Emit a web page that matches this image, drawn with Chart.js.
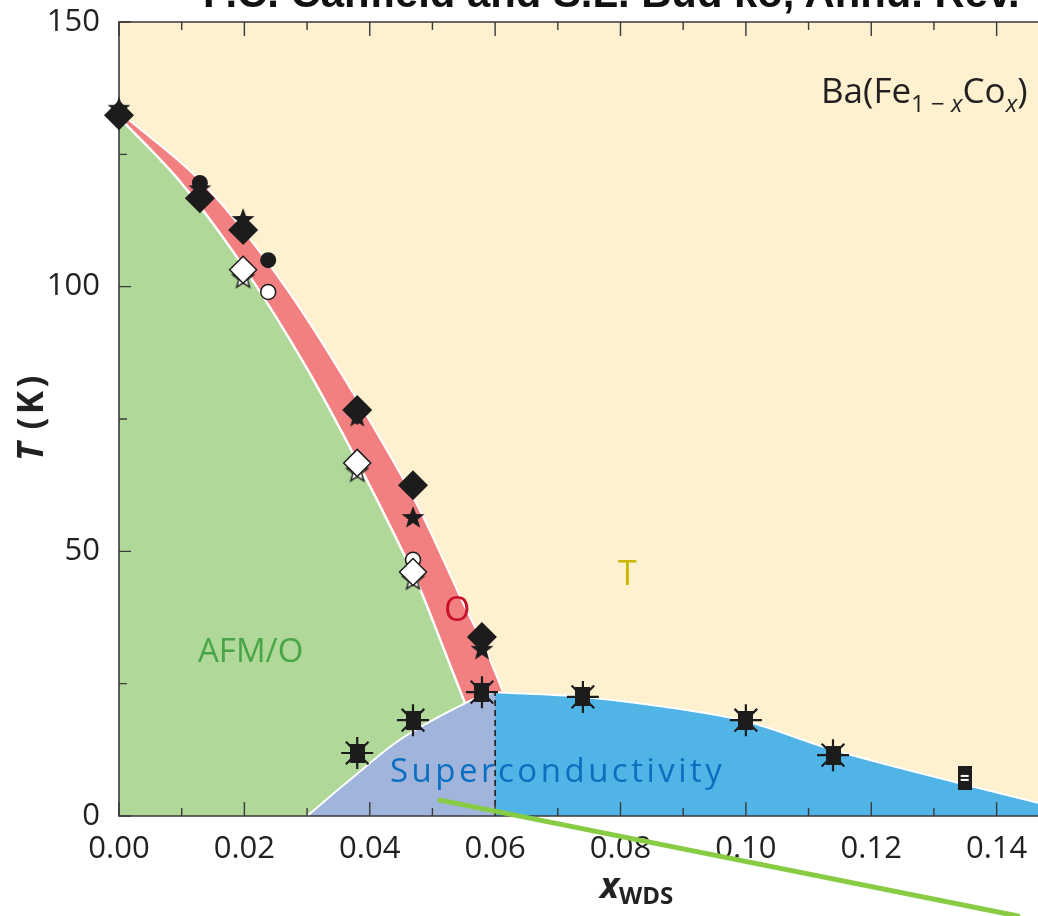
<!DOCTYPE html>
<html><head><meta charset="utf-8">
<script src="https://cdn.jsdelivr.net/npm/chart.js@4.4.1/dist/chart.umd.min.js"></script>
<style>
html,body{margin:0;padding:0;background:#fff;overflow:hidden;width:1038px;height:916px}
#wrap{position:relative;width:1038px;height:916px;overflow:hidden;background:#fff}
#c{position:absolute;left:0;top:0}
.lbl{position:absolute;white-space:nowrap;line-height:normal;font-family:"Open Sans",sans-serif}
.sb{position:relative;top:9px;font-size:24px}
</style></head><body>
<div id="wrap">
<canvas id="c" width="1038" height="916"></canvas>
<div class="lbl" id="ttl" style="font-family:'Liberation Sans',Arial,sans-serif;font-weight:700;font-size:41.8px;color:#111">P.C. Canfield and S.L. Bud’ko, Annu. Rev.</div>
<div class="lbl" id="formula" style="font-size:35px;color:#231f20">Ba(Fe<span class="sb">1 − <i>x</i></span>Co<span class="sb"><i>x</i></span>)</div>
<div class="lbl" id="lT" style="font-size:34px;color:#c9b800">T</div>
<div class="lbl" id="lO" style="font-size:34px;color:#c8102e">O</div>
<div class="lbl" id="lAFM" style="font-size:33px;color:#49a648">AFM/O</div>
<div class="lbl" id="lSC" style="font-size:33px;color:#0b6fc0;letter-spacing:3.5px">Superconductivity</div>
<div class="lbl" id="xt" style="font-weight:700;color:#222"><i style="font-size:36px">x</i><span style="font-size:24px;position:relative;top:6px">WDS</span></div>
<div class="lbl" id="yt" style="font-weight:700;font-size:35px;letter-spacing:3.5px;color:#222;transform-origin:0 0;transform:rotate(-90deg)"><i>T</i>&#8201;(K)</div>
</div>
<script>
// ---------- tick labels ----------
const xTickValues = [0, 0.02, 0.04, 0.06, 0.08, 0.10, 0.12, 0.14];
const xTickLabels = ['0.00', '0.02', '0.04', '0.06', '0.08', '0.10', '0.12', '0.14'];
const xMinorTicks = [0.01, 0.03, 0.05, 0.07, 0.09, 0.11, 0.13];
const yTickValues = [0, 50, 100, 150];
const yTickLabels = ['0', '50', '100', '150'];
const yMinorTicks = [25, 75, 125];

// ---------- phase boundaries ----------
const tsBoundX = [0, 0.0021, 0.0138, 0.0265, 0.0378, 0.0479, 0.0546, 0.0590, 0.0612];
const tsBoundT = [133.0, 131.0, 119.0, 100.0, 79.0, 58.0, 41.0, 30.0, 23.6];
const tnBoundX = [0, 0.010, 0.020, 0.030, 0.038, 0.044, 0.048, 0.0515, 0.0552];
const tnBoundT = [132.0, 119.5, 103.5, 84.5, 67.0, 53.0, 43.0, 32.5, 21.3];
const scLowX = [0.030, 0.0368, 0.0448, 0.0552, 0.0576, 0.060];
const scLowT = [0, 6.8, 14.4, 21.3, 22.6, 23.4];
const scHighX = [0.060, 0.074, 0.0847, 0.100, 0.1139, 0.1341, 0.1466, 0.152];
const scHighT = [23.4, 22.5, 21.0, 17.9, 12.5, 6.2, 2.5, 1.0];
const dashX = [0.060, 0.060];
const dashT = [0, 23.4];

// ---------- measured points ----------
const tsX = [0, 0.0129, 0.0198, 0.038, 0.0469, 0.0579];
const tsDiamondT = [132.4, 116.7, 110.7, 76.7, 62.5, 33.8];
const tsStarT = [133.6, 118.4, 112.6, 75.4, 56.3, 31.4];
const tsCircleX = [0.0129, 0.0238];
const tsCircleT = [119.6, 105.0];
const tnX = [0.0198, 0.038, 0.0469];
const tnDiamondT = [103.2, 66.7, 46.1];
const tnStarT = [101.6, 65.0, 44.6];
const tnCircleX = [0.0238, 0.0469];
const tnCircleT = [99.0, 48.4];
const tcX = [0.038, 0.0469, 0.0579, 0.074, 0.100, 0.1139];
const tcT = [11.9, 18.1, 23.4, 22.5, 18.1, 11.5];
const tcOnlyX = [0.1349];
const tcOnlyT = [7.2];

// ---------- annotation stroke ----------
const annotX = [0.0512, 0.1434];
const annotT = [3.0, -18.9];

const pts = (xs, ys) => xs.map((x, i) => ({x: x, y: ys[i]}));

function starCanvas(R, r, fill, stroke, lw) {
  const s = Math.ceil(2 * R + lw * 2 + 2);
  const c = document.createElement('canvas'); c.width = s; c.height = s;
  const g = c.getContext('2d'); g.translate(s / 2, s / 2); g.beginPath();
  for (let i = 0; i < 10; i++) {
    const a = -Math.PI / 2 + i * Math.PI / 5, rr = i % 2 ? r : R;
    g.lineTo(rr * Math.cos(a), rr * Math.sin(a));
  }
  g.closePath(); g.fillStyle = fill; g.fill();
  if (lw) { g.strokeStyle = stroke; g.lineWidth = lw; g.stroke(); }
  return c;
}
function rectCanvas(w, h, bars) {
  const c = document.createElement('canvas'); c.width = w; c.height = h;
  const g = c.getContext('2d'); g.fillStyle = '#1c1c1c'; g.fillRect(0, 0, w, h);
  if (bars) { g.fillStyle = '#fff'; g.fillRect(3, h / 2 - 3, w - 6, 2); g.fillRect(3, h / 2 + 1, w - 6, 2); }
  return c;
}
const blackStar = starCanvas(12, 5, '#1c1c1c', '#1c1c1c', 0);
const whiteStar = starCanvas(11, 4.6, '#ffffff', '#1c1c1c', 1.4);
const scSquare = rectCanvas(15, 19, false);
const scTall = rectCanvas(14, 24, true);

const region = (label, xs, ys, color, order, bw) => ({
  label, data: pts(xs, ys), order, fill: 'origin', backgroundColor: color,
  borderColor: '#ffffff', borderWidth: bw, pointRadius: 0, cubicInterpolationMode: 'monotone'
});
const marker = (label, xs, ys, style, r, bg, bc, bw, order) => ({
  label, data: pts(xs, ys), order, showLine: false, pointStyle: style, pointRadius: r,
  pointHoverRadius: r, backgroundColor: bg, borderColor: bc, borderWidth: bw, clip: false
});

const framePlugin = {
  id: 'frame',
  beforeDatasetsDraw(chart) {
    const {ctx, chartArea: a} = chart;
    ctx.save(); ctx.fillStyle = '#fdf1d0';
    ctx.fillRect(a.left, a.top, a.right - a.left, a.bottom - a.top); ctx.restore();
  },
  afterDatasetDraw(chart, args) {
    if (chart.data.datasets[args.index].label !== 'dashed') return;
    const {ctx, chartArea: a, scales: {x, y}} = chart;
    ctx.save();
    ctx.strokeStyle = '#3a3a3a'; ctx.lineWidth = 1.6;
    ctx.beginPath();
    ctx.moveTo(a.right + 2, a.top); ctx.lineTo(a.left, a.top);
    ctx.lineTo(a.left, a.bottom); ctx.lineTo(a.right + 2, a.bottom);
    ctx.stroke();
    ctx.lineWidth = 1.4; ctx.beginPath();
    const xt = (v, len) => { const p = x.getPixelForValue(v);
      ctx.moveTo(p, a.bottom); ctx.lineTo(p, a.bottom - len);
      ctx.moveTo(p, a.top); ctx.lineTo(p, a.top + len); };
    const yt = (v, len) => { const p = y.getPixelForValue(v);
      ctx.moveTo(a.left, p); ctx.lineTo(a.left + len, p); };
    xTickValues.forEach(v => xt(v, 14));
    xMinorTicks.forEach(v => xt(v, 8));
    yTickValues.forEach(v => yt(v, 12));
    yMinorTicks.forEach(v => yt(v, 8));
    ctx.stroke(); ctx.restore();
  }
};

new Chart(document.getElementById('c'), {
  type: 'line',
  data: { datasets: [
    region('O', tsBoundX, tsBoundT, '#f28080', 100, 2),
    region('AFM/O', tnBoundX, tnBoundT, '#b0d898', 95, 2.5),
    region('SC-underdoped', scLowX, scLowT, '#a0b4dc', 90, 2),
    region('SC', scHighX, scHighT, '#50b4e6', 85, 2),
    { label: 'dashed', data: pts(dashX, dashT), order: 80, borderColor: '#1c1c1c', borderWidth: 1.6,
      borderDash: [6, 4], pointRadius: 0, fill: false },
    marker('Ts star', tsX, tsStarT, blackStar, 12, '#1c1c1c', '#1c1c1c', 0, 50),
    marker('Ts circle', tsCircleX, tsCircleT, 'circle', 8, '#1c1c1c', '#1c1c1c', 0, 48),
    marker('Ts diamond', tsX, tsDiamondT, 'rectRot', 15, '#1c1c1c', '#1c1c1c', 0, 45),
    marker('Tn star', tnX, tnStarT, whiteStar, 12, '#ffffff', '#1c1c1c', 1.4, 40),
    marker('Tn circle', tnCircleX, tnCircleT, 'circle', 7.5, '#ffffff', '#1c1c1c', 1.5, 38),
    marker('Tn diamond', tnX, tnDiamondT, 'rectRot', 13.5, '#ffffff', '#1c1c1c', 1.5, 35),
    marker('Tc square', tcX, tcT, scSquare, 10, '#1c1c1c', '#1c1c1c', 0, 30),
    marker('Tc tall', tcOnlyX, tcOnlyT, scTall, 12, '#1c1c1c', '#1c1c1c', 0, 30),
    marker('Tc asterisk', tcX, tcT, 'star', 16, '#1c1c1c', '#1c1c1c', 2.2, 25),
    { label: 'annotation', data: pts(annotX, annotT), order: 0, borderColor: '#88cc44', borderWidth: 5,
      borderCapStyle: 'round', pointRadius: [0, 3], pointBackgroundColor: '#88cc44', pointBorderWidth: 0,
      fill: false, clip: false }
  ]},
  options: {
    responsive: false, animation: false, devicePixelRatio: 1,
    layout: { autoPadding: false, padding: { top: 22, left: 0, right: 0, bottom: 0 } },
    plugins: { legend: { display: false }, tooltip: { enabled: false }, title: { display: false } },
    events: [],
    scales: {
      x: {
        type: 'linear', position: 'bottom', min: 0, max: 0.1466,
        grid: { display: false, drawTicks: false }, border: { display: false },
        afterBuildTicks: s => { s.ticks = xTickValues.map(v => ({value: v})); },
        afterFit: s => { s.height = 100; s.paddingLeft = 0; s.paddingRight = 0; s.paddingTop = 0; s.paddingBottom = 0; },
        ticks: { autoSkip: false, maxRotation: 0, padding: 15, color: '#222',
          font: { family: 'Open Sans', size: 31 },
          callback: (v, i) => xTickLabels[i] }
      },
      y: {
        type: 'linear', position: 'left', min: 0, max: 150,
        grid: { display: false, drawTicks: false }, border: { display: false },
        afterBuildTicks: s => { s.ticks = yTickValues.map(v => ({value: v})); },
        afterFit: s => { s.width = 119; s.paddingLeft = 0; s.paddingRight = 0; s.paddingTop = 0; s.paddingBottom = 0; },
        ticks: { autoSkip: false, padding: 19, color: '#222',
          font: { family: 'Open Sans', size: 31 },
          callback: (v, i) => yTickLabels[i] }
      }
    }
  },
  plugins: [framePlugin]
});

// place HTML labels by baseline
function baselineOf(el) {
  const p = document.createElement('span');
  p.style.cssText = 'display:inline-block;width:0;height:0;vertical-align:baseline';
  el.appendChild(p); const off = p.offsetTop; el.removeChild(p); return off;
}
function place(id, x, by) {
  const el = document.getElementById(id);
  el.style.left = '0px'; el.style.top = '0px';
  const b = baselineOf(el);
  el.style.left = x + 'px'; el.style.top = (by - b) + 'px';
}
place('ttl', 203, 7);
place('formula', 821, 103);
place('lT', 618, 585);
place('lO', 444, 621);
place('lAFM', 198, 662);
place('lSC', 390, 782);
place('xt', 600, 898);
(function () {
  const el = document.getElementById('yt');
  el.style.left = '0px'; el.style.top = '0px';
  const b = baselineOf(el);
  el.style.left = (43 - b) + 'px'; el.style.top = '461px';
})();
</script>
</body></html>
